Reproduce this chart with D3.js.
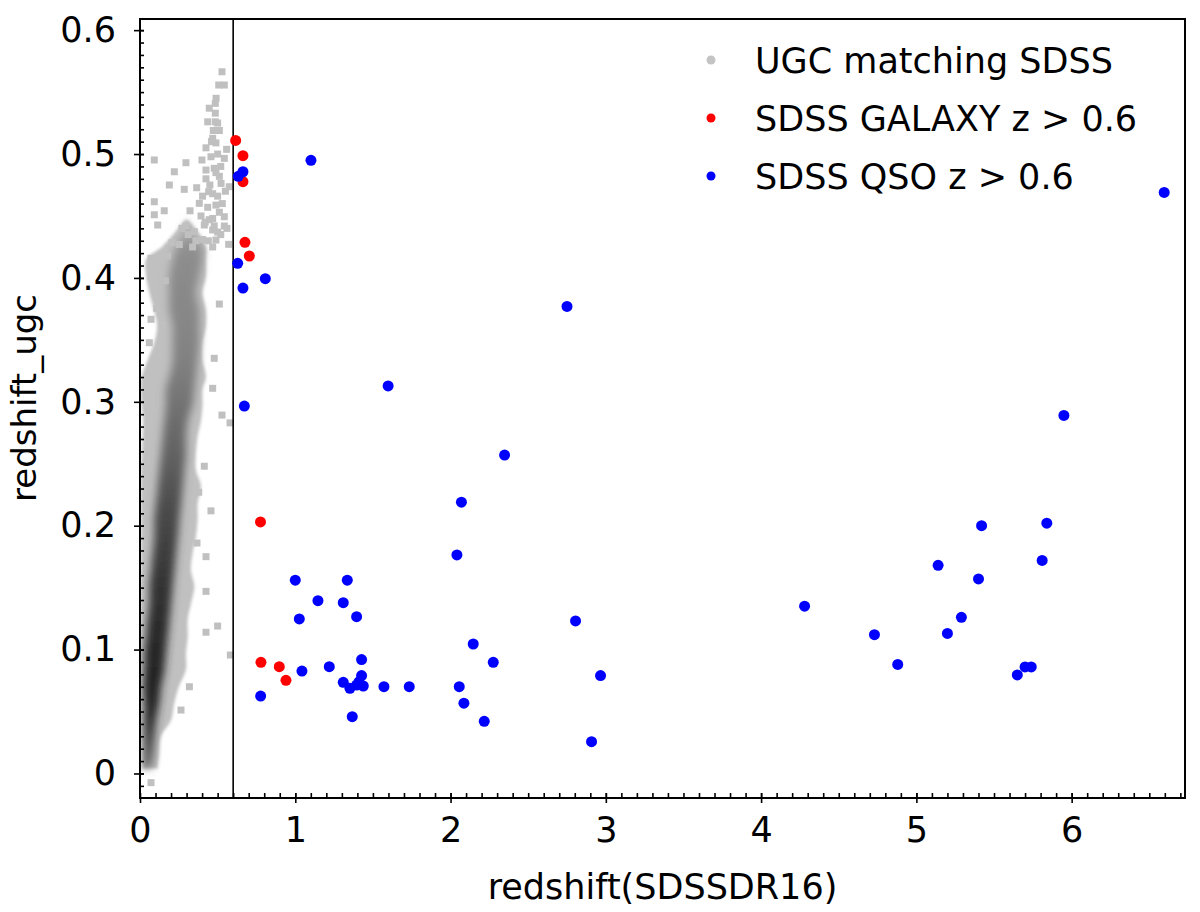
<!DOCTYPE html>
<html>
<head>
<meta charset="utf-8">
<script src="https://cdn.jsdelivr.net/npm/d3@7"></script>
<style>
body { margin: 0; background: #fff; }
text { font-family: "DejaVu Sans", sans-serif; fill: #000; }
</style>
</head>
<body>
<script>
// UGC cloud: per row, outer extent, dense core and core darkness
var ugcRowY     = [0.004, 0.016, 0.030, 0.043, 0.057, 0.070, 0.084, 0.097, 0.110, 0.124, 0.137, 0.151, 0.164, 0.178, 0.191, 0.205, 0.218, 0.232, 0.245, 0.258, 0.272, 0.285, 0.298, 0.310, 0.320, 0.334, 0.347, 0.361, 0.374, 0.388, 0.401, 0.415, 0.425, 0.436, 0.447];
var ugcOuterLo  = [0.017, 0.013, 0.006, 0.006, 0.006, 0.006, 0.006, 0.006, 0.006, 0.006, 0.006, 0.006, 0.006, 0.006, 0.006, 0.006, 0.006, 0.006, 0.006, 0.012, 0.017, 0.020, 0.010, 0.006, 0.010, 0.050, 0.090, 0.110, 0.090, 0.060, 0.040, 0.040, 0.140, 0.220, 0.290];
var ugcOuterHi  = [0.114, 0.124, 0.135, 0.200, 0.221, 0.250, 0.296, 0.296, 0.307, 0.307, 0.328, 0.350, 0.328, 0.339, 0.360, 0.371, 0.371, 0.393, 0.360, 0.360, 0.371, 0.393, 0.403, 0.403, 0.425, 0.403, 0.403, 0.425, 0.425, 0.403, 0.425, 0.425, 0.425, 0.380, 0.310];
var ugcCoreLo   = [0.017, 0.028, 0.028, 0.028, 0.028, 0.022, 0.028, 0.028, 0.039, 0.049, 0.060, 0.060, 0.071, 0.082, 0.092, 0.092, 0.103, 0.114, 0.124, 0.135, 0.146, 0.157, 0.167, 0.167, 0.189, 0.210, 0.210, 0.210, 0.189, 0.189, 0.189, 0.210, 0.232, 0.280, 0.300];
var ugcCoreHi   = [0.071, 0.082, 0.092, 0.103, 0.124, 0.135, 0.157, 0.167, 0.178, 0.189, 0.200, 0.210, 0.221, 0.232, 0.243, 0.253, 0.264, 0.275, 0.285, 0.296, 0.296, 0.307, 0.339, 0.350, 0.360, 0.371, 0.382, 0.382, 0.382, 0.360, 0.382, 0.403, 0.403, 0.330, 0.305];
var ugcDensity  = [0.55, 0.75, 0.85, 0.92, 0.95, 0.95, 0.95, 0.93, 0.92, 0.90, 0.88, 0.86, 0.83, 0.80, 0.77, 0.74, 0.70, 0.66, 0.62, 0.58, 0.55, 0.52, 0.48, 0.45, 0.43, 0.40, 0.38, 0.37, 0.36, 0.35, 0.34, 0.33, 0.30, 0.20, 0.10];

// single UGC points outside the cloud
var ugcSparseX = [0.528, 0.507, 0.543, 0.485, 0.485, 0.436, 0.511, 0.468, 0.558, 0.543, 0.457, 0.399, 0.296, 0.092, 0.221, 0.425, 0.478, 0.189, 0.285, 0.365, 0.442, 0.522, 0.575, 0.092, 0.382, 0.489, 0.092, 0.156, 0.322, 0.114, 0.296, 0.414, 0.543, 0.468, 0.543, 0.350, 0.468, 0.206, 0.489, 0.571, 0.071, 0.178, 0.071, 0.163, 0.114, 0.511, 0.107, 0.071, 0.146, 0.060, 0.478, 0.468, 0.528, 0.580, 0.414, 0.457, 0.425, 0.425, 0.500, 0.425, 0.582, 0.264, 0.318, 0.378, 0.367, 0.071,
                  0.489, 0.511, 0.425, 0.468, 0.403, 0.500, 0.436, 0.511, 0.393, 0.446, 0.478, 0.500, 0.403, 0.253, 0.339, 0.468, 0.425, 0.489, 0.472, 0.446, 0.485,
                  0.460, 0.500, 0.520, 0.450, 0.530, 0.420, 0.520, 0.440, 0.360, 0.310, 0.270, 0.550, 0.500, 0.490, 0.560];
var ugcSparseY = [0.5664, 0.5557, 0.5557, 0.5409, 0.5260, 0.5260, 0.5190, 0.5127, 0.5038, 0.4965, 0.4978, 0.4952, 0.4930, 0.4952, 0.4857, 0.4871, 0.4885, 0.4750, 0.4715, 0.4728, 0.4696, 0.4763, 0.4736, 0.4615, 0.4602, 0.4588, 0.4510, 0.4542, 0.4542, 0.4427, 0.4419, 0.4427, 0.4419, 0.4480, 0.4494, 0.4373, 0.4387, 0.4284, 0.4306, 0.4271, 0.4158, 0.4177, 0.4010, 0.3977, 0.3908, 0.3789, 0.3754, 0.3666, 0.3620, 0.3477, 0.3351, 0.3109, 0.2893, 0.2830, 0.2480, 0.2120, 0.1750, 0.1470, 0.1190, 0.1140, 0.0956, 0.0512, 0.0700, 0.2270, 0.1860, -0.0074,
                  0.485, 0.482, 0.480, 0.468, 0.466, 0.466, 0.457, 0.453, 0.450, 0.447, 0.442, 0.437, 0.431, 0.427, 0.425, 0.425, 0.505, 0.509, 0.519, 0.537, 0.533,
                  0.510, 0.500, 0.490, 0.475, 0.460, 0.445, 0.435, 0.430, 0.430, 0.435, 0.440, 0.470, 0.525, 0.545, 0.440];

// SDSS GALAXY z > 0.6
var galaxyX = [0.616, 0.663, 0.663, 0.676, 0.704, 0.776, 0.779, 0.897, 0.940];
var galaxyY = [0.511, 0.4987, 0.4777, 0.4287, 0.4177, 0.203, 0.0897, 0.0862, 0.0752];

// SDSS QSO z > 0.6
var qsoX = [0.633, 0.663, 0.629, 0.807, 0.663, 0.672, 1.101, 6.596, 2.750, 1.598, 5.950, 2.348, 2.070, 2.041, 1.000, 1.335, 1.146, 1.309, 1.026, 1.395, 2.805, 2.146, 2.275, 2.966, 1.043, 1.219, 1.427, 1.427, 1.309, 1.352, 1.395, 1.438, 1.410, 1.571, 1.734, 2.056, 2.086, 2.217, 1.367, 0.777, 2.908, 4.280, 4.730, 4.880, 5.140, 5.200, 5.290, 5.400, 5.420, 5.840, 5.810, 5.650, 5.700, 5.740];
var qsoY = [0.482, 0.4857, 0.4118, 0.3994, 0.3918, 0.2966, 0.4949, 0.469, 0.377, 0.3128, 0.289, 0.257, 0.219, 0.1764, 0.156, 0.156, 0.1395, 0.1379, 0.1247, 0.1266, 0.1231, 0.1045, 0.0897, 0.079, 0.0827, 0.0862, 0.0919, 0.079, 0.0736, 0.0688, 0.0714, 0.0706, 0.074, 0.0701, 0.0701, 0.0701, 0.0567, 0.0421, 0.0458, 0.0625, 0.0257, 0.135, 0.112, 0.088, 0.168, 0.113, 0.126, 0.157, 0.200, 0.202, 0.172, 0.0795, 0.086, 0.086];

var xTicks = [0, 1, 2, 3, 4, 5, 6];
var yTicks = [0, 0.1, 0.2, 0.3, 0.4, 0.5, 0.6];
var zCut = 0.6;
var legendLabels = ["UGC matching SDSS", "SDSS GALAXY z > 0.6", "SDSS QSO z > 0.6"];
var legendColors = ["#c4c4c4", "#ff0000", "#0000ff"];

var W = 1200, H = 912;
var pL = 140, pR = 1185, pT = 19, pB = 798;

var x = d3.scaleLinear().domain([0, 6.73]).range([pL, pR]);
var y = d3.scaleLinear().domain([-0.0198, 0.609]).range([pB, pT]);
var shade = d3.scaleLinear().domain([0, 1]).range(["#c4c4c4", "#1c1c1c"]);

var svg = d3.select("body").append("svg")
    .attr("width", W)
    .attr("height", H);

svg.append("rect").attr("width", W).attr("height", H).attr("fill", "#fff");

var defs = svg.append("defs");
defs.append("clipPath").attr("id", "plotclip")
  .append("rect")
    .attr("x", pL).attr("y", pT)
    .attr("width", pR - pL).attr("height", pB - pT);
defs.append("filter").attr("id", "soft").attr("x", "-20%").attr("y", "-5%").attr("width", "140%").attr("height", "110%")
  .append("feGaussianBlur").attr("stdDeviation", 1.5);
defs.append("filter").attr("id", "softer").attr("x", "-30%").attr("y", "-5%").attr("width", "160%").attr("height", "110%")
  .append("feGaussianBlur").attr("stdDeviation", 4);

var y0px = y(ugcRowY[0]), y1px = y(ugcRowY[ugcRowY.length - 1]);
var grad = defs.append("linearGradient").attr("id", "coreShade")
    .attr("gradientUnits", "userSpaceOnUse")
    .attr("x1", 0).attr("x2", 0)
    .attr("y1", y0px).attr("y2", y1px);
grad.selectAll("stop")
    .data(ugcRowY)
    .enter()
    .append("stop")
    .attr("offset", function(d) { return (y(d) - y0px) / (y1px - y0px); })
    .attr("stop-color", function(d, i) { return shade(ugcDensity[i]); });

var plot = svg.append("g").attr("clip-path", "url(#plotclip)");

// density cloud: outer envelope then dark core
var outer = d3.area()
    .y(function(d) { return y(d); })
    .x0(function(d, i) { return x(ugcOuterLo[i]); })
    .x1(function(d, i) { return x(ugcOuterHi[i]); })
    .curve(d3.curveCatmullRom);
var core = d3.area()
    .y(function(d) { return y(d); })
    .x0(function(d, i) { return x(ugcCoreLo[i]); })
    .x1(function(d, i) { return x(ugcCoreHi[i]); })
    .curve(d3.curveCatmullRom);

plot.append("path")
    .attr("d", outer(ugcRowY))
    .attr("fill", "#c0c0c0")
    .attr("filter", "url(#soft)");
plot.append("path")
    .attr("d", core(ugcRowY))
    .attr("fill", "url(#coreShade)")
    .attr("filter", "url(#softer)");

plot.selectAll("rect.ugc")
    .data(ugcSparseX)
    .enter()
    .append("rect")
    .attr("class", "ugc")
    .attr("x", function(d) { return x(d) - 3.5; })
    .attr("y", function(d, i) { return y(ugcSparseY[i]) - 3.5; })
    .attr("width", 7)
    .attr("height", 7)
    .attr("fill", "#c0c0c0");

// z = 0.6 cut
plot.append("line")
    .attr("x1", x(zCut)).attr("x2", x(zCut))
    .attr("y1", pT).attr("y2", pB)
    .attr("stroke", "#000")
    .attr("stroke-width", 1.6);

plot.selectAll("circle.gal")
    .data(galaxyX)
    .enter()
    .append("circle")
    .attr("class", "gal")
    .attr("cx", function(d) { return x(d); })
    .attr("cy", function(d, i) { return y(galaxyY[i]); })
    .attr("r", 5.5)
    .attr("fill", "#ff0000");

plot.selectAll("circle.qso")
    .data(qsoX)
    .enter()
    .append("circle")
    .attr("class", "qso")
    .attr("cx", function(d) { return x(d); })
    .attr("cy", function(d, i) { return y(qsoY[i]); })
    .attr("r", 5.5)
    .attr("fill", "#0000ff");

// axes: minor ticks inside, major ticks crossing the frame
var xMinor = d3.range(1, 68).map(function(i) { return i / 10; });
var yMinor = d3.range(-1, 61).map(function(i) { return i / 100; });

svg.append("g")
    .attr("transform", "translate(0," + pB + ")")
    .call(d3.axisBottom(x).tickValues(xMinor).tickSize(-5).tickFormat(""));
svg.append("g")
    .attr("transform", "translate(0," + pB + ")")
    .call(d3.axisBottom(x).tickValues(xTicks).tickSize(-5).tickFormat(""));
var xAxis = svg.append("g")
    .attr("transform", "translate(0," + pB + ")")
    .call(d3.axisBottom(x).tickValues(xTicks).tickSize(5).tickPadding(14).tickFormat(d3.format("d")));

svg.append("g")
    .attr("transform", "translate(" + pL + ",0)")
    .call(d3.axisLeft(y).tickValues(yMinor).tickSize(-4).tickFormat(""));
svg.append("g")
    .attr("transform", "translate(" + pL + ",0)")
    .call(d3.axisLeft(y).tickValues(yTicks).tickSize(-4).tickFormat(""));
var yAxis = svg.append("g")
    .attr("transform", "translate(" + pL + ",0)")
    .call(d3.axisLeft(y).tickValues(yTicks).tickSize(6).tickPadding(18)
        .tickFormat(function(d) { return d === 0 ? "0" : d3.format(".1f")(d); }));

svg.selectAll(".domain").remove();
svg.selectAll(".tick line").attr("stroke", "#000").attr("stroke-width", 1.6);
xAxis.selectAll("text").style("font-size", "35px").style("font-family", "DejaVu Sans");
yAxis.selectAll("text").style("font-size", "35px").style("font-family", "DejaVu Sans");

svg.append("rect")
    .attr("x", pL).attr("y", pT)
    .attr("width", pR - pL).attr("height", pB - pT)
    .attr("fill", "none")
    .attr("stroke", "#000")
    .attr("stroke-width", 2);

svg.append("text")
    .attr("x", (pL + pR) / 2)
    .attr("y", 899)
    .attr("text-anchor", "middle")
    .style("font-size", "35px")
    .text("redshift(SDSSDR16)");

svg.append("text")
    .attr("transform", "translate(24,398) rotate(-90)")
    .attr("text-anchor", "middle")
    .attr("dy", "0.35em")
    .style("font-size", "34px")
    .text("redshift_ugc");

// legend
var legendY = [60, 118, 176];
var legend = svg.append("g");
legend.selectAll("circle")
    .data(legendLabels)
    .enter()
    .append("circle")
    .attr("cx", 711)
    .attr("cy", function(d, i) { return legendY[i]; })
    .attr("r", 4.5)
    .attr("fill", function(d, i) { return legendColors[i]; });
legend.selectAll("text")
    .data(legendLabels)
    .enter()
    .append("text")
    .attr("x", 755)
    .attr("y", function(d, i) { return legendY[i]; })
    .attr("dy", "0.36em")
    .style("font-size", "35px")
    .text(function(d) { return d; });
</script>
</body>
</html>
